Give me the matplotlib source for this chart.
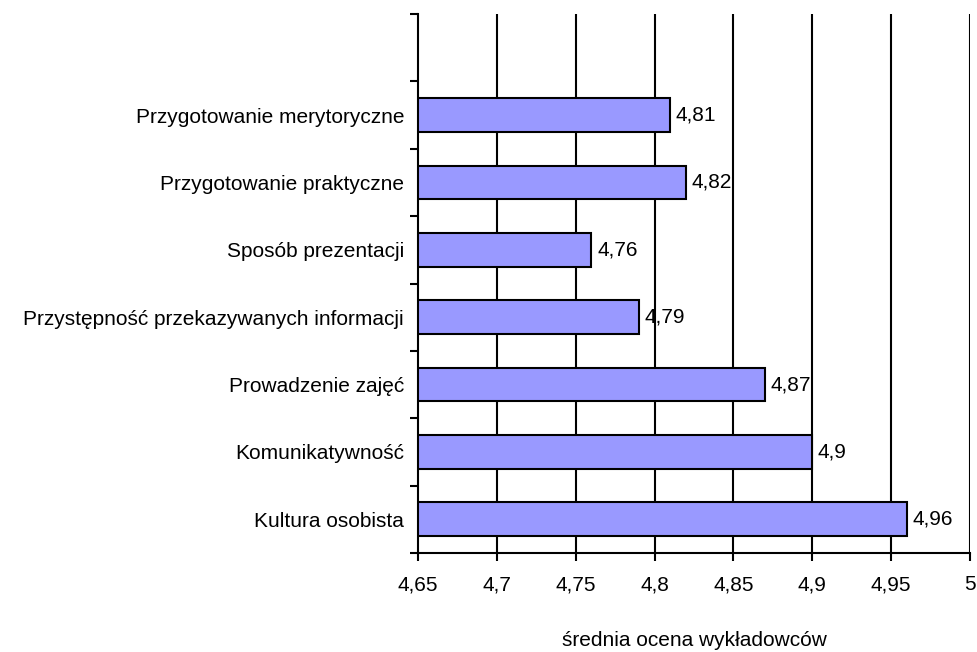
import matplotlib
matplotlib.use("Agg")
import matplotlib.pyplot as plt
from matplotlib.ticker import FixedLocator

plt.rcParams['font.family'] = ['Liberation Sans', 'DejaVu Sans']

categories = ["Kultura osobista", "Komunikatywność", "Prowadzenie zajęć",
              "Przystępność przekazywanych informacji", "Sposób prezentacji",
              "Przygotowanie praktyczne", "Przygotowanie merytoryczne"]
values = [4.96, 4.9, 4.87, 4.79, 4.76, 4.82, 4.81]
xticks = [4.65, 4.7, 4.75, 4.8, 4.85, 4.9, 4.95, 5.0]
xticklabels = ["4,65", "4,7", "4,75", "4,8", "4,85", "4,9", "4,95", "5"]
xlabel = "średnia ocena wykładowców"

FS = 15

fig = plt.figure(figsize=(9.77, 6.52), dpi=100)
ax = fig.add_axes([418/977, 1-553/652, (970-418)/977, (553-14)/652])

ypos = list(range(len(categories)))
xmin = 4.65
ax.barh(ypos, [v - xmin for v in values], left=xmin, height=0.5,
        color="#9999FF", edgecolor="black", linewidth=1.5, zorder=3)

for y, v in zip(ypos, values):
    s = f"{v:g}".replace(".", ",")
    ax.annotate(s, (v, y), xytext=(4, 0), textcoords="offset points",
                va="center", ha="left", fontsize=FS, zorder=4)

ax.set_xlim(4.65, 5.0)
ax.set_ylim(-0.5, len(categories) + 0.5)
ax.set_xticks(xticks)
ax.set_xticklabels(xticklabels, fontsize=FS)
ax.set_yticks(ypos)
ax.set_yticklabels(categories, fontsize=FS)
ax.yaxis.set_minor_locator(FixedLocator([i - 0.5 for i in range(len(categories) + 2)]))
ax.tick_params(axis="y", which="major", length=0, pad=10)
ax.tick_params(axis="y", which="minor", length=6, width=1.5, direction="out")
ax.tick_params(axis="x", which="major", length=6, width=1.5, direction="out", pad=10)

for x in xticks[1:]:
    ax.axvline(x, color="black", linewidth=1.5, zorder=1)

ax.spines["top"].set_visible(False)
ax.spines["right"].set_visible(False)
ax.spines["left"].set_linewidth(1.5)
ax.spines["bottom"].set_linewidth(1.5)

fig.text(694/977, 1-640/652, xlabel, ha="center", va="center", fontsize=FS)

fig.savefig("out.png", dpi=100)
